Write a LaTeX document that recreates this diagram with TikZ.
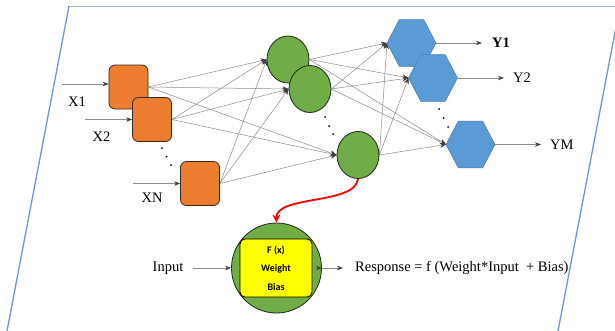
\documentclass[tikz,border=0pt]{standalone}
\usepackage{fontspec}
\setmainfont{Liberation Serif}
\newfontfamily\calib{Carlito}
\usetikzlibrary{arrows.meta,shapes.geometric,backgrounds}
\definecolor{orangeF}{HTML}{ED7D31}
\definecolor{orangeB}{HTML}{3A2818}
\definecolor{greenF}{HTML}{70AD47}
\definecolor{greenB}{HTML}{1E2A14}
\definecolor{blueF}{HTML}{5B9BD5}
\definecolor{blueB}{HTML}{4A7EBB}
\definecolor{yellowF}{HTML}{FFFF00}
\definecolor{lineG}{HTML}{8C8C8C}
\definecolor{arrowG}{HTML}{404040}
\definecolor{frameTop}{HTML}{A5BDDA}
\definecolor{frameSide}{HTML}{6C98CB}
\begin{document}
\begin{tikzpicture}[x=1pt,y=-1pt,
  obox/.style={draw=orangeB, line width=0.8pt, fill=orangeF, rounded corners=6pt,
    minimum width=39pt, minimum height=44pt, inner sep=0pt},
  gcirc/.style={ellipse, draw=greenB, line width=0.8pt, fill=greenF,
    minimum width=42pt, minimum height=47pt, inner sep=0pt},
  hexa/.style={regular polygon, regular polygon sides=6, draw=blueB, line width=0.5pt,
    fill=blueF, minimum size=49pt, inner sep=0pt, outer sep=0pt},
  conn/.style={draw=lineG, line width=0.5pt,
    -{Stealth[length=6pt,width=5pt,color=arrowG,fill=arrowG]}},
  inarr/.style={draw=lineG, line width=0.6pt,
    -{Stealth[length=6pt,width=4.5pt,color=arrowG,fill=arrowG]}},
  gline/.style={draw=lineG, line width=0.6pt},
  redarr/.style={draw=red, line width=1.8pt, -{Stealth[length=8pt,width=8pt]}},
  lbl/.style={font=\fontsize{14.5}{16}\selectfont, inner sep=0pt},
  dotmark/.style={fill=black}
]
\useasboundingbox (0,0) rectangle (615,330);
% frame
\draw[frameTop, line width=1pt] (69,6) -- (620,6);
\draw[frameSide, line width=1.3pt] (69,6) -- (7,331);
\draw[frameSide, line width=1.3pt] (620,6) -- (558,331);

% input layer
\node[obox] (b1) at (128.5,87) {};
\node[obox] (b2) at (152,119.5) {};
\node[obox] (b3) at (200,183.5) {};
% hidden layer
\node[gcirc] (c1) at (288,59.5) {};
\node[gcirc] (c2) at (310,89) {};
\node[gcirc] (c3) at (358,155) {};
% output layer
\begin{scope}[shift={(411.5,43)}, yscale=1.1]
  \node[hexa, transform shape] (h1) at (0,0) {};
\end{scope}
\begin{scope}[shift={(433,78)}, yscale=1.1]
  \node[hexa, transform shape] (h2) at (0,0) {};
\end{scope}
\begin{scope}[shift={(470.5,144.5)}, yscale=1.1]
  \node[hexa, transform shape] (h3) at (0,0) {};
\end{scope}

\begin{pgfonlayer}{background}
  \fill[white] (0,0) rectangle (615,330);
  \foreach \s in {b1,b2,b3} \foreach \t in {c1,c2,c3} \draw[conn] (\s.east) -- (\t.west);
  \foreach \s in {c1,c2,c3} \foreach \t in {h1,h2,h3} \draw[conn] (\s.east) -- (\t.west);
\end{pgfonlayer}

% inputs
\coordinate (x1s) at (62,84);
\coordinate (x2s) at (85,119.5);
\coordinate (x3s) at (133,183.5);
\draw[inarr] (x1s) -- (x1s -| b1.west);
\draw[inarr] (x2s) -- (b2.west);
\draw[inarr] (x3s) -- (b3.west);
\node[lbl] (x1l) at (77,102) {X1};
\node[lbl] (x2l) at (101.5,137) {X2};
\node[lbl] (x3l) at (152,197.5) {XN};

% outputs
\coordinate (y1e) at (482,43);
\coordinate (y2e) at (504,78);
\coordinate (y3e) at (541,144.5);
\draw[inarr] (h1.east) -- (y1e);
\draw[inarr] (h2.east) -- (y2e);
\draw[inarr] (h3.east) -- (y3e);
\node[lbl, anchor=west, font=\fontsize{14.5}{16}\selectfont\bfseries] (y1l) at (492,43) {Y1};
\node[lbl, anchor=west] (y2l) at (513,78) {Y2};
\node[lbl, anchor=west] (y3l) at (550,144.5) {YM};

% dots
\foreach \p in {(162,148),(166.5,156.5),(171,165),(325,117),(329,126),(333,134),(439,109),(443.5,118),(448,127)}
  \fill[dotmark] \p circle (1);

% neuron detail
\node[circle, draw=greenB, line width=0.8pt, fill=greenF, minimum size=90pt, inner sep=0pt] (bc) at (276.5,268) {};
\node[draw=black, line width=0.8pt, fill=yellowF, rounded corners=5pt, minimum width=72pt,
  minimum height=58pt, inner sep=0pt, align=center,
  font=\calib\bfseries\fontsize{10}{18.5}\selectfont] (yb) at (276,268) {F (x)\\Weight\\Bias};
\draw[redarr] (c3.south) .. controls (355,205) and (276,195) .. (bc.north);

\node[lbl] (inl) at (168,268) {Input};
\coordinate (ins) at (193,268);
\draw[inarr] (ins) -- (bc.west);
\draw[gline] (bc.west) -- (yb.west);
\draw[inarr] (yb.east) -- (bc.east);
\coordinate (re) at (343,268);
\draw[inarr] (bc.east) -- (re);
\node[lbl, anchor=west] (resp) at (355,268) {Response = f (Weight*Input~ + Bias)};
\end{tikzpicture}
\end{document}
